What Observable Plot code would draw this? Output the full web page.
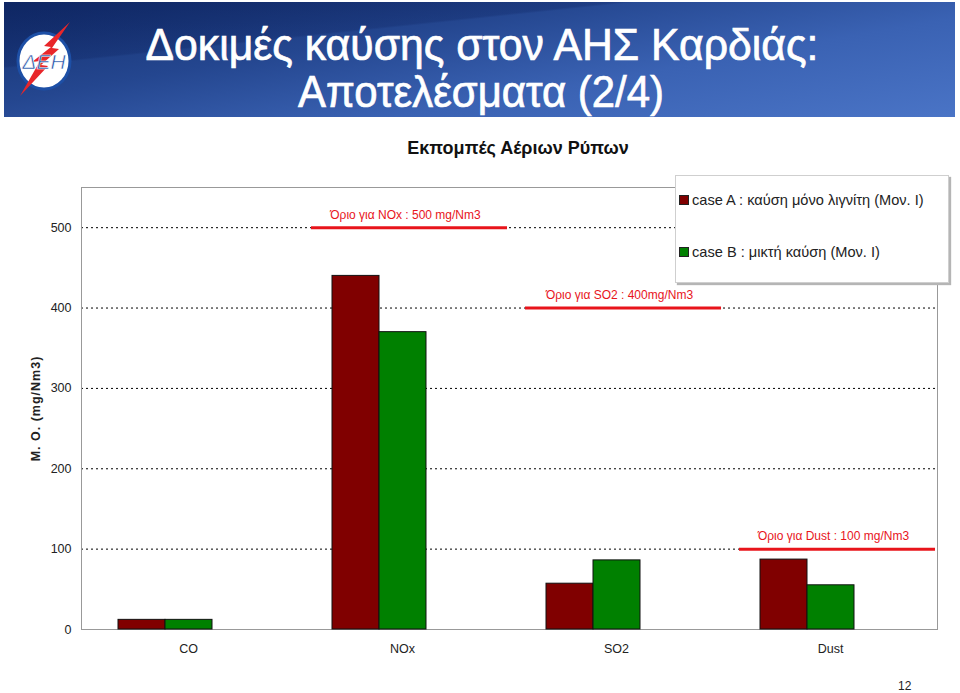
<!DOCTYPE html>
<html>
<head>
<meta charset="utf-8">
<script src="https://cdn.jsdelivr.net/npm/d3@7"></script>
<script src="https://cdn.jsdelivr.net/npm/@observablehq/plot@0.6"></script>
<style>
  html, body { margin: 0; padding: 0; background: #fff; }
  #page { position: relative; width: 960px; height: 693px; overflow: hidden; font-family: "Liberation Sans", Arial, sans-serif; }
  #banner { position: absolute; left: 4px; top: 2px; width: 951px; height: 115px;
    background:
      linear-gradient(174deg, rgba(10,30,90,0.55) 0%, rgba(10,30,90,0.25) 30%, rgba(255,255,255,0) 31%),
      linear-gradient(170deg, #14306e 0%, #24468f 35%, #3a62b3 65%, #4a74c6 100%); }
  #banner svg { position: absolute; left: 0; top: 0; }
  #chartTitle { position: absolute; left: 318px; width: 400px; top: 138px; text-align: center; font-weight: bold; font-size: 18px; color: #111; }
  #legend { position: absolute; left: 675px; top: 175px; width: 272px; height: 106px; background: #fff; border: 1px solid #cfcfcf; box-shadow: 2px 2px 1px #b5b5b5; }
  .item { position: absolute; left: 3px; font-size: 14.6px; color: #222; white-space: nowrap; }
  .sw { display: inline-block; width: 8px; height: 8px; border: 1px solid #222; margin-right: 3px; vertical-align: 0px; }
  #pageNum { position: absolute; left: 898px; top: 679px; font-size: 12px; color: #222; }
  #chart { position: absolute; left: 0; top: 0; }
</style>
</head>
<body>
<div id="page">
  <div id="chart"></div>
  <div id="banner">
    <svg width="951" height="115" viewBox="0 0 951 115">
      <ellipse cx="40" cy="59" rx="26" ry="28" fill="#fff" stroke="#1d4fa6" stroke-width="3"/>
      <polygon points="66,20 40,44 47,45 28,60 36,59 16,94 44,64 37,63 55,47 48,46" fill="#e8262a"/>
      <text x="40" y="67" text-anchor="middle" font-family="Liberation Sans, Arial" font-size="21" font-style="italic" fill="#1d4fa6" stroke="#fff" stroke-width="0.6">ΔΕΗ</text>
      <text x="478" y="58" text-anchor="middle" textLength="673" lengthAdjust="spacingAndGlyphs" font-family="Liberation Sans Narrow, Liberation Sans, Arial" font-size="44" fill="#fff" stroke="#fff" stroke-width="0.7">Δοκιμές καύσης στον ΑΗΣ Καρδιάς:</text>
      <text x="477" y="105" text-anchor="middle" textLength="366" lengthAdjust="spacingAndGlyphs" font-family="Liberation Sans Narrow, Liberation Sans, Arial" font-size="44" fill="#fff" stroke="#fff" stroke-width="0.7">Αποτελέσματα (2/4)</text>
    </svg>
  </div>
  <div id="chartTitle">Εκπομπές Αέριων Ρύπων</div>
  <div id="legend">
    <div class="item" style="top:16px"><span class="sw" style="background:#800000"></span>case A : καύση μόνο λιγνίτη (Μον. Ι)</div>
    <div class="item" style="top:68px"><span class="sw" style="background:#008000"></span>case B : μικτή καύση (Μον. Ι)</div>
  </div>
  <div id="pageNum">12</div>
</div>
<script>
const pollutants = ["CO", "NOx", "SO2", "Dust"];
const caseA = [12, 440, 57, 87];
const caseB = [12, 370, 86, 55];
const cases = ["A", "B", "C"];
const caseColors = ["#800000", "#008000", "#ffffff"];
const yTicks = [0, 100, 200, 300, 400, 500];
const limitPollutants = ["NOx", "SO2", "Dust"];
const limitValues = [500, 400, 100];
const limitLabels = ["Όριο για NOx : 500 mg/Nm3", "Όριο για SO2 : 400mg/Nm3", "Όριο για Dust : 100 mg/Nm3"];

const bars = [];
pollutants.forEach((p, i) => {
  bars.push({pollutant: p, case: "A", value: caseA[i]});
  bars.push({pollutant: p, case: "B", value: caseB[i]});
});
const limits = limitPollutants.map((p, i) => ({pollutant: p, value: limitValues[i], label: limitLabels[i]}));

const chart = Plot.plot({
  width: 960,
  height: 693,
  marginLeft: 80,
  marginRight: 22,
  marginTop: 187,
  marginBottom: 64,
  style: {fontFamily: "Liberation Sans, Arial, sans-serif", fontSize: "12.5px", color: "#222", background: "transparent"},
  fx: {domain: pollutants, padding: 0, label: null, axis: "bottom", tickSize: 0, tickPadding: 15, fontSize: 13},
  x: {domain: cases, paddingInner: 0, paddingOuter: 0.734, axis: null},
  y: {domain: [0, 550], ticks: yTicks, tickSize: 0, tickPadding: 10, label: "M. O. (mg/Nm3)", labelAnchor: "center", labelOffset: 50, labelArrow: "none"},
  color: {domain: cases, range: caseColors},
  marks: [
    Plot.gridY(yTicks.filter(d => d > 0), {stroke: "#000", strokeOpacity: 1, strokeWidth: 1, strokeDasharray: "2,3"}),
    Plot.frame({stroke: "#999", facet: "super"}),
    Plot.barY(bars, {fx: "pollutant", x: "case", y: "value", fill: "case", stroke: "#111", strokeWidth: 1}),
    Plot.ruleY(limits, {fx: "pollutant", y: "value", stroke: "#e8141b", strokeWidth: 3, insetLeft: 16, insetRight: 2}),
    Plot.text(limits, {fx: "pollutant", y: "value", text: "label", fill: "#e8141b", fontSize: 12, dy: -13, dx: 3})
  ]
});
document.getElementById("chart").appendChild(chart);
const yl = chart.querySelector('g[aria-label="y-axis label"] text');
if (yl) { yl.setAttribute("font-weight", "bold"); yl.setAttribute("letter-spacing", "1"); }
</script>
</body>
</html>
